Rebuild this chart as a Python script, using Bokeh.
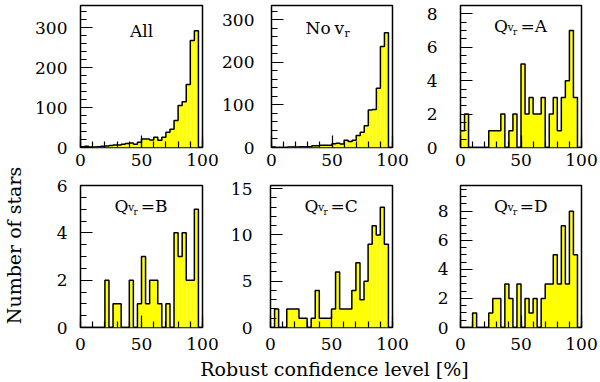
import numpy as np
from bokeh.plotting import figure
from bokeh.models import Range1d, FixedTicker, Label
from bokeh.layouts import row, column
from bokeh.embed import file_html
from bokeh.resources import INLINE

# ---------------- data (30 bins of robust confidence level, 0-100 %) ----------------
n_bins = 30
conf_min, conf_max = 0, 100

all_counts = [2, 3, 1, 1, 2, 3, 4, 5, 6, 6, 8, 10, 11, 8, 13, 21, 21, 19, 26, 18,
              26, 38, 46, 68, 105, 115, 158, 268, 293, 0]
novr_counts = [1, 0, 0, 0, 1, 1, 1, 2, 2, 2, 4, 4, 5, 5, 5, 9, 10, 8, 17, 14,
               17, 28, 36, 51, 88, 89, 139, 237, 269, 0]
qa_counts = [1, 2, 0, 0, 0, 0, 0, 1, 1, 1, 2, 0, 1, 2, 0, 5, 2, 3, 2, 2,
             3, 0, 2, 3, 1, 3, 4, 7, 3, 0]
qb_counts = [0, 0, 0, 0, 0, 0, 2, 0, 1, 1, 0, 0, 2, 0, 1, 3, 1, 2, 2, 1,
             0, 1, 0, 4, 3, 4, 2, 2, 5, 0]
qc_counts = [0, 2, 0, 0, 2, 2, 2, 1, 1, 0, 1, 4, 1, 1, 1, 2, 6, 2, 2, 2,
             4, 7, 3, 5, 9, 11, 10, 13, 9, 0]
qd_counts = [0, 0, 0, 1, 0, 0, 0, 1, 2, 2, 0, 3, 2, 0, 3, 0, 2, 1, 2, 0,
             2, 3, 3, 5, 3, 7, 3, 8, 5, 0]

y_tops = [356, 333, 8.5, 6, 15.35, 9.77]
y_major = [[0, 100, 200, 300], [0, 100, 200, 300], [0, 2, 4, 6, 8],
           [0, 2, 4, 6], [0, 5, 10, 15], [0, 2, 4, 6, 8]]
y_minor_step = [20, 20, 0.5, 0.5, 1, 0.5]
x_major = [0, 50, 100]
x_minor_step = 10
quality_letters = ["A", "B", "C", "D"]

x_title = "Robust confidence level [%]"
y_title = "Number of stars"

FONT = "DejaVu Serif"
YELLOW = "#ffff00"

edges = np.linspace(conf_min, conf_max, n_bins + 1)


def make_panel(counts, ymax, yticks, ystep, width, height, bl, br, bt, bb, ystand, xstand):
    fw = width - bl - br
    p = figure(width=width, height=height, x_range=Range1d(conf_min, conf_max),
               y_range=Range1d(0, ymax), output_backend="svg", toolbar_location=None,
               min_border_left=bl, min_border_right=br, min_border_top=bt,
               min_border_bottom=bb)
    c = np.asarray(counts, dtype=float)
    p.quad(left=edges[:-1], right=edges[1:], bottom=0, top=c,
           fill_color=YELLOW, line_color=None)
    # step outline built from the histogram
    xs = [edges[0]]
    ys = [0.0]
    for i in range(n_bins):
        xs += [edges[i], edges[i + 1]]
        ys += [c[i], c[i]]
    xs.append(edges[-1])
    ys.append(0.0)
    p.line(xs, ys, line_color="black", line_width=1.5)

    p.xgrid.visible = False
    p.ygrid.visible = False
    p.outline_line_color = "black"
    p.outline_line_width = 1.5
    p.background_fill_color = "white"
    p.border_fill_color = "white"

    p.xaxis.ticker = FixedTicker(ticks=x_major,
                                 minor_ticks=list(np.arange(conf_min, conf_max + 1, x_minor_step)))
    p.yaxis.ticker = FixedTicker(ticks=yticks,
                                 minor_ticks=list(np.arange(0, ymax, ystep)))
    for ax, stand in ((p.xaxis, xstand), (p.yaxis, ystand)):
        ax.axis_line_color = None
        ax.major_tick_in = 12
        ax.major_tick_out = 0
        ax.minor_tick_in = 6
        ax.minor_tick_out = 0
        ax.major_tick_line_color = "black"
        ax.major_tick_line_width = 1.2
        ax.minor_tick_line_color = "black"
        ax.minor_tick_line_width = 1.2
        ax.major_label_text_font = FONT
        ax.major_label_text_font_size = "17px"
        ax.major_label_text_color = "black"
        ax.major_label_standoff = stand
    return p, fw


def lab(p, text, x, y, size, align="left"):
    p.add_layout(Label(x=x, y=y, x_units="screen", y_units="screen", text=text,
                       text_font=FONT, text_font_size=f"{size}px", text_color="black",
                       text_align=align, text_baseline="alphabetic"))


def q_label(p, fw, letter):
    c = fw / 2
    lab(p, "Q", c - 27, 122, 17)
    lab(p, "v", c - 13.5, 120, 11)
    lab(p, "r", c - 8, 116, 9)
    lab(p, "=" + letter, c + 12.7, 122, 17, "center")


# geometry (page has no margin: pixel coordinates of the window)
ylab_w = 25
widths = [194, 191, 190]
bl = [55, 51, 50]
br = [17, 18, 19]
top_h, bot_h, xlab_h = 174, 183, 25

# top row
p1, fw1 = make_panel(all_counts, y_tops[0], y_major[0], y_minor_step[0], widths[0], top_h, bl[0], br[0], 5, 27, 13, 6)
p2, fw2 = make_panel(novr_counts, y_tops[1], y_major[1], y_minor_step[1], widths[1], top_h, bl[1], br[1], 5, 27, 17, 6)
p3, fw3 = make_panel(qa_counts, y_tops[2], y_major[2], y_minor_step[2], widths[2], top_h, bl[2], br[2], 5, 27, 23, 6)

lab(p1, "All", fw1 / 2, 117, 17, "center")
lab(p2, "No", 34, 120, 17)
lab(p2, "v", 63, 120, 17)
lab(p2, "r", 73, 114, 11)
q_label(p3, fw3, quality_letters[0])

# bottom row
p4, fw4 = make_panel(qb_counts, y_tops[3], y_major[3], y_minor_step[3], widths[0], bot_h, bl[0], br[0], 11, 30, 13, 10)
p5, fw5 = make_panel(qc_counts, y_tops[4], y_major[4], y_minor_step[4], widths[1], bot_h, bl[1], br[1], 11, 30, 18, 10)
p6, fw6 = make_panel(qd_counts, y_tops[5], y_major[5], y_minor_step[5], widths[2], bot_h, bl[2], br[2], 11, 30, 12, 10)
q_label(p4, fw4, quality_letters[1])
q_label(p5, fw5, quality_letters[2])
q_label(p6, fw6, quality_letters[3])

# axis titles
total_w = ylab_w + sum(widths)
xlab = figure(width=total_w, height=xlab_h, x_range=Range1d(0, total_w), y_range=Range1d(0, xlab_h),
              output_backend="svg", toolbar_location=None, min_border=0)
xlab.axis.visible = False
xlab.grid.visible = False
xlab.outline_line_color = None
xlab.add_layout(Label(x=334, y=xlab_h - 11, text=x_title, text_font=FONT, text_font_size="19px",
                      text_align="center", text_baseline="middle", text_color="black"))

rows_h = top_h + bot_h
ylab = figure(width=ylab_w, height=rows_h, x_range=Range1d(0, ylab_w), y_range=Range1d(0, rows_h),
              output_backend="svg", toolbar_location=None, min_border=0)
ylab.axis.visible = False
ylab.grid.visible = False
ylab.outline_line_color = None
ylab.add_layout(Label(x=13, y=rows_h - 245, text=y_title, angle=90, angle_units="deg",
                      text_font=FONT, text_font_size="19px", text_align="center",
                      text_baseline="middle", text_color="black"))

layout = column(row(ylab, column(row(p1, p2, p3), row(p4, p5, p6))), xlab)

open("out.html", "w").write(file_html(layout, INLINE))
